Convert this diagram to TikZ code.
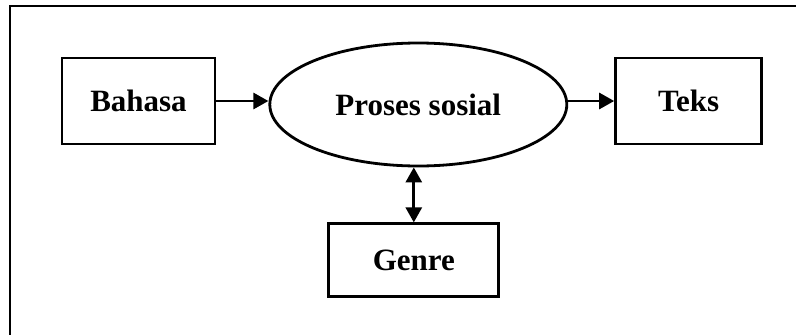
\documentclass[tikz,border=0pt]{standalone}
\usepackage{fontspec}
\setmainfont{Liberation Serif}
\usetikzlibrary{positioning, shapes.geometric, arrows.meta}
\tikzstyle{Box} = [
draw, line width=2.8pt,
inner sep=0pt,
font=\fontsize{31}{36}\selectfont\bfseries]
\tikzstyle{Arrow} = [
line width=2.8pt,
-{Triangle[length=15pt, width=16pt]}]

\begin{document}
\begin{tikzpicture}[x=1pt, y=-1pt]
    \useasboundingbox (0,0) rectangle (796,335);
    \coordinate (fb) at (10,336);
    \coordinate (fc) at (10,6);
    \coordinate (fr) at (797,6);
    \draw[line width=2.8pt] (fb) -- (fc) -- (fr);

    \node [Box, minimum width=153pt, minimum height=86pt] (bahasa) at (138.5,101) {Bahasa};
    \node [Box, ellipse, minimum width=297pt, minimum height=123pt, right=52pt of bahasa, yshift=-3.5pt] (proses) {Proses sosial};
    \node [Box, minimum width=146pt, minimum height=86pt, right=46pt of proses, yshift=3.5pt] (teks) {Teks};
    \node [Box, minimum width=170pt, minimum height=73pt, below=55pt of proses, xshift=-4.5pt] (genre) {Genre};

    \draw[Arrow] (bahasa.east) -- (bahasa.east -| proses.west);
    \draw[Arrow] (proses.east |- teks.west) -- (teks.west);
    \draw[Arrow, {Triangle[length=15pt, width=16pt]}-{Triangle[length=15pt, width=16pt]}] (proses.south -| genre.north) -- (genre.north);
\end{tikzpicture}
\end{document}
